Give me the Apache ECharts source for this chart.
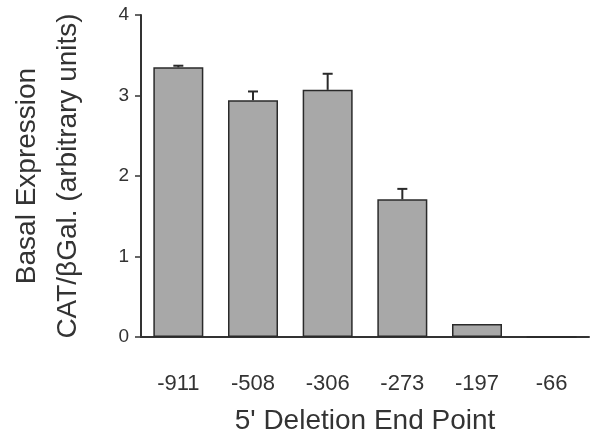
<!DOCTYPE html>
<html>
<head>
<meta charset="utf-8">
<script src="https://cdn.jsdelivr.net/npm/echarts@6/dist/echarts.min.js"></script>
<style>
  html, body { margin: 0; padding: 0; background: #fff; }
  #chart { width: 593px; height: 431px; }
</style>
</head>
<body>
<div id="chart"></div>
<script>
// datos
var endPoints = ['-911', '-508', '-306', '-273', '-197', '-66'];
var basalExpr = [3.35, 2.94, 3.07, 1.71, 0.16, 0];
var errUp = [0.02, 0.11, 0.2, 0.13, 0, 0];
var yTicks = [0, 1, 2, 3, 4];

var font = 'Liberation Sans';
var ink = '#333';

var chart = echarts.init(document.getElementById('chart'));

var option = {
  animation: false,
  grid: { left: 141, right: 4, top: 15, bottom: 94, outerBoundsMode: 'none', containLabel: false },
  xAxis: {
    type: 'category',
    data: endPoints,
    axisLine: { lineStyle: { color: ink, width: 2 } },
    axisTick: { alignWithLabel: true, length: 7, lineStyle: { color: ink, width: 1.5 } },
    axisLabel: { color: ink, fontFamily: font, fontSize: 22, margin: 36 },
    name: "5' Deletion End Point",
    nameLocation: 'middle',
    nameGap: 70,
    nameTextStyle: { color: ink, fontFamily: font, fontSize: 28 }
  },
  yAxis: {
    type: 'value',
    min: yTicks[0],
    max: yTicks[yTicks.length - 1],
    interval: 1,
    splitLine: { show: false },
    axisLine: { show: true, lineStyle: { color: ink, width: 2 } },
    axisTick: { show: true, length: 6, lineStyle: { color: ink, width: 1.5 } },
    axisLabel: { color: ink, fontFamily: font, fontSize: 19, margin: 12 },
    name: 'Basal Expression\nCAT/\u03b2Gal. (arbitrary units)',
    nameLocation: 'middle',
    nameRotate: 90,
    nameGap: 52,
    nameTextStyle: { color: ink, fontFamily: font, fontSize: 28, lineHeight: 41 }
  },
  series: [
    {
      type: 'bar',
      data: basalExpr,
      barWidth: 50,
      itemStyle: { color: '#a8a8a8', borderColor: '#2a2a2a', borderWidth: 1.5 }
    },
    {
      type: 'custom',
      data: basalExpr.map(function (v, i) { return [i, v, v + errUp[i]]; }),
      renderItem: function (params, api) {
        if (api.value(2) - api.value(1) <= 0) return;
        var lo = api.coord([api.value(0), api.value(1)]);
        var hi = api.coord([api.value(0), api.value(2)]);
        var half = 5;
        var st = { stroke: '#2a2a2a', lineWidth: 2 };
        return {
          type: 'group',
          children: [
            { type: 'line', shape: { x1: lo[0], y1: lo[1], x2: hi[0], y2: hi[1] }, style: st },
            { type: 'line', shape: { x1: hi[0] - half, y1: hi[1], x2: hi[0] + half, y2: hi[1] }, style: st }
          ]
        };
      },
      z: 3
    }
  ]
};

chart.setOption(option);
</script>
</body>
</html>
